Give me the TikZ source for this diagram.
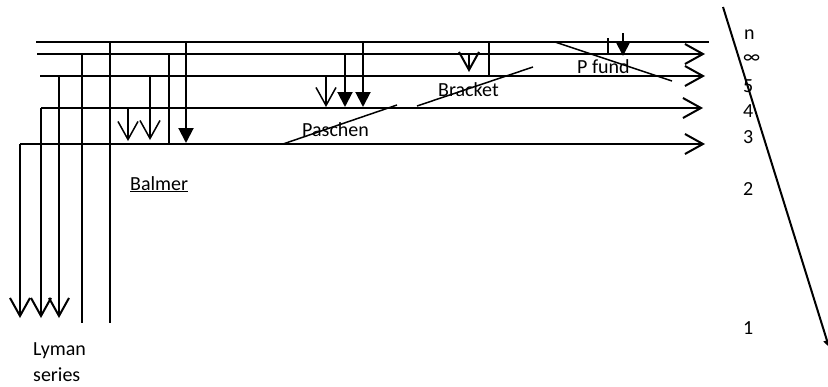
\documentclass[tikz,border=0pt]{standalone}
\usepackage{fontspec}
\setmainfont{Carlito}
\usepackage{tikz}
\usetikzlibrary{arrows.meta,positioning}

\begin{document}
\begin{tikzpicture}[x=1pt,y=-1pt]
			\tikzstyle{Level}	= [line width=2pt]
			\tikzstyle{Thin}	= [line width=1.5pt]
			\tikzstyle{Open}	= [-{Straight Barb[length=18pt,width=20pt]}]
			\tikzstyle{Solid}	= [-{Triangle[length=15pt,width=15pt]}]
			\tikzstyle{Tick}	= [-{Triangle[length=7pt,width=7pt]}]
			\tikzstyle{Label}	= [inner sep=0pt, anchor=base west, font=\fontsize{20}{24}\selectfont]

			\useasboundingbox (0,0) rectangle (828,386);

			% energy levels
			\coordinate (A0) at (36,42);	\coordinate (A1) at (709,42);
			\coordinate (B0) at (37,54);	\coordinate (B1) at (705,54);
			\coordinate (C0) at (40,76);	\coordinate (C1) at (705,76);
			\coordinate (D0) at (41,108);	\coordinate (D1) at (703,108);
			\coordinate (E0) at (20,144);	\coordinate (E1) at (705,144);

			\draw [-] (A0) to (A1) [Level];
			\draw (B0) to (B1) [Level][Open];
			\draw (C0) to (C1) [Level][Open];
			\draw (D0) to (D1) [Level][Open];
			\draw (E0) to (E1) [Level][Open];

			% Lyman
			\coordinate (ly1) at (20,318);
			\coordinate (ly2s) at (41,108);	\coordinate (ly2) at (41,318);
			\coordinate (ly3s) at (59,76);	\coordinate (ly3) at (59,318);
			\coordinate (ly4s) at (82,54);	\coordinate (ly4) at (82,323);
			\coordinate (ly5s) at (110,42);	\coordinate (ly5) at (110,323);

			\draw (E0) to (ly1) [Level][Open];
			\draw (ly2s) to (ly2) [Level][Open];
			\draw (ly3s) to (ly3) [Level][Open];
			\draw [-] (ly4s) to (ly4) [Thin];
			\draw [-] (ly5s) to (ly5) [Thin];

			% Balmer
			\coordinate (ba1s) at (128,108);	\coordinate (ba1) at (128,141);
			\coordinate (ba2s) at (150,76);	\coordinate (ba2) at (150,140);
			\coordinate (ba3s) at (169,54);	\coordinate (ba3) at (169,144);
			\coordinate (ba4s) at (186,42);	\coordinate (ba4) at (186,143);

			\draw (ba1s) to (ba1) [Thin][Open];
			\draw (ba2s) to (ba2) [Thin][Open];
			\draw [-] (ba3s) to (ba3) [Thin];
			\draw (ba4s) to (ba4) [Level][Solid];

			% Paschen
			\coordinate (pa1s) at (326,76);	\coordinate (pa1) at (326,107);
			\coordinate (pa2s) at (345,54);	\coordinate (pa2) at (345,107);
			\coordinate (pa3s) at (363,42);	\coordinate (pa3) at (363,107);

			\draw (pa1s) to (pa1) [Thin][Open];
			\draw (pa2s) to (pa2) [Level][Solid];
			\draw (pa3s) to (pa3) [Level][Solid];

			% Bracket
			\coordinate (br1s) at (469,53);	\coordinate (br1) at (469,72);
			\coordinate (br2s) at (489,42);	\coordinate (br2) at (489,76);

			\draw (br1s) to (br1) [Level][Open];
			\draw [-] (br2s) to (br2) [Level];

			% P fund
			\coordinate (pf1s) at (608,38);	\coordinate (pf1) at (608,55);
			\coordinate (pf2s) at (623,33);	\coordinate (pf2) at (623,56);

			\draw [-] (pf1s) to (pf1) [Thin];
			\draw (pf2s) to (pf2) [Level][Solid];

			% series strokes
			\coordinate (pd0) at (283,144);	\coordinate (pd1) at (397,105);
			\coordinate (bd0) at (417,106);	\coordinate (bd1) at (533,67);
			\coordinate (fd0) at (555,42);	\coordinate (fd1) at (672,81);
			\coordinate (n0) at (723,7);	\coordinate (n1) at (829,347);

			\draw [-] (pd0) to (pd1) [Thin];
			\draw [-] (bd0) to (bd1) [Thin];
			\draw [-] (fd0) to (fd1) [Thin];
			\draw (n0) to (n1) [Level][Tick];

			% labels
			\node (lyman) at (33,355) [Label] {Lyman};
			\node (series) at (33,381) [Label] {series};
			\node (balmer) at (130,190) [Label] {\underline{Balmer}};
			\node (paschen) at (302,136) [Label] {Paschen};
			\node (bracket) at (438,96) [Label] {Bracket};
			\node (pfund) at (577,73) [Label] {P fund};

			\node (nn) at (744,39) [Label] {n};
			\node (ninf) at (743,63) [Label] {∞};
			\node (n5) at (743,92) [Label] {5};
			\node (n4) at (743,117) [Label] {4};
			\node (n3) at (743,143) [Label] {3};
			\node (n2) at (743,195) [Label] {2};
			\node (n1l) at (743,334) [Label] {1};
		\end{tikzpicture}
\end{document}
